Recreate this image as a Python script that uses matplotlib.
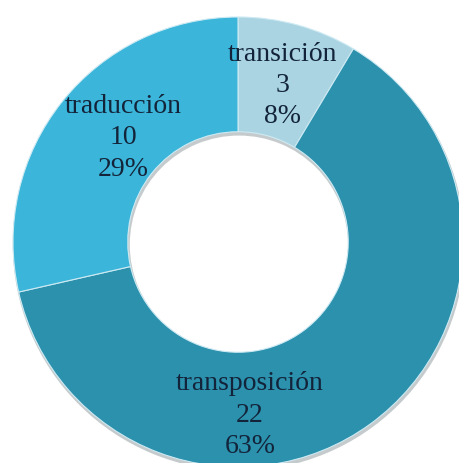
import matplotlib.pyplot as plt

categories = ['transición', 'transposición', 'traducción']
counts = [3, 22, 10]
percent_labels = ['8%', '63%', '29%']
colors = ['#aad4e2', '#2b91ad', '#3bb6da']

# label anchor points, in data units around the ring centre
label_xy = [(0.196, 0.70), (0.053, -0.765), (-0.511, 0.467)]

plt.rcParams['font.family'] = ['Liberation Serif', 'DejaVu Serif']

fig = plt.figure(figsize=(4.59, 4.64), dpi=100)
ax = fig.add_axes([0, 0, 1, 1])

# soft drop shadow under the ring
ax.pie([sum(counts)], colors=['#5a6a70'], radius=1.005, center=(0.004, -0.012),
       wedgeprops=dict(width=0.52, linewidth=0, alpha=0.35))

wedges, _ = ax.pie(counts, colors=colors, startangle=90, counterclock=False,
                   radius=1.0,
                   wedgeprops=dict(width=0.51, edgecolor='#cdeaf3', linewidth=0.8))

for name, n, pct, (x, y) in zip(categories, counts, percent_labels, label_xy):
    ax.text(x, y, f'{name}\n{n}\n{pct}', ha='center', va='center',
            fontsize=20, color='#13243a', linespacing=1.33)

ax.set_xlim(-238 / 225, (459 - 238) / 225)
ax.set_ylim(-(464 - 243) / 225, 243 / 225)
ax.set_aspect('auto')
ax.axis('off')

fig.savefig('out.png', dpi=100)
